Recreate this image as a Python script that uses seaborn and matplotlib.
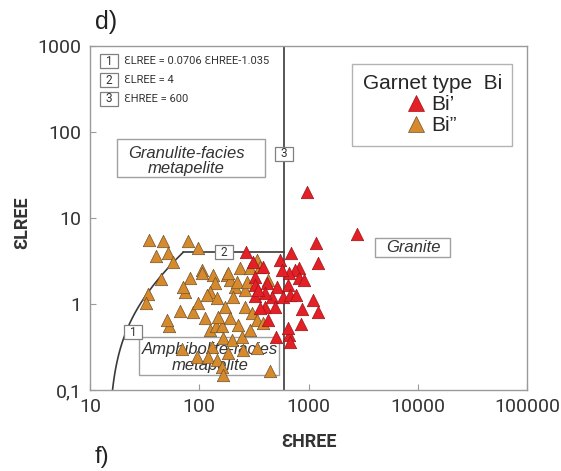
import numpy as np
import pandas as pd
import matplotlib
matplotlib.use("Agg")
import matplotlib.pyplot as plt
from matplotlib.patches import Rectangle
from matplotlib.lines import Line2D
from matplotlib import font_manager
import seaborn as sns

# Garnet Bi' (red) : sum of HREE and LREE
bi1_hree = [959, 2754, 1159, 1211, 698, 553, 386, 313, 270, 826, 760, 670, 826,
            326, 326, 421, 520, 656, 468, 590, 684, 776, 326, 403, 1089, 881,
            1211, 862, 508, 670, 684, 430, 363, 498, 656, 403, 348, 900, 577]
bi1_lree = [20.1, 6.51, 5.12, 3.00, 3.92, 3.25, 2.69, 3.08, 4.03, 2.62, 2.49, 2.29, 2.01,
            2.06, 1.66, 1.75, 1.58, 1.66, 1.21, 1.21, 1.27, 1.27, 1.24, 0.92, 1.11, 0.88,
            0.81, 0.59, 0.41, 0.44, 0.36, 0.65, 0.90, 0.92, 0.53, 1.34, 1.46, 1.90, 2.49]

# Garnet Bi'' (orange)
bi2_hree = [34.8, 46.8, 40.4, 52, 79.3, 97.9, 57.7, 44.8, 34, 32.7, 53, 50.8, 70,
            95, 448, 66, 88, 106.6, 82.6, 134.4, 140.2, 180.6, 192.4, 237.8, 293.6,
            340.6, 363, 430, 213.8, 264, 126, 74.5, 97.9, 118.4, 146.2, 173.2, 184.5,
            223.2, 205, 275.6, 264, 306.4, 340.6, 386.5, 126, 143.2, 162.5, 166, 131.6,
            200.8, 248, 253.3, 184.5, 121, 146.2, 162.5, 166, 340.6, 113.6, 149.3,
            192.4, 228, 293.6, 107, 71.3]
bi2_lree = [5.55, 5.40, 3.61, 3.92, 5.40, 4.48, 3.08, 1.95, 1.31, 1.03, 0.555, 0.652, 0.30,
            0.24, 0.166, 0.84, 0.80, 2.49, 2.01, 2.17, 1.75, 2.17, 1.90, 2.62, 2.62,
            3.25, 2.69, 1.90, 1.58, 1.46, 1.38, 1.38, 1.03, 1.27, 1.17, 0.923, 2.29,
            1.80, 1.21, 1.80, 0.923, 0.786, 0.652, 0.601, 0.499, 0.555, 0.555, 0.403, 0.316,
            0.381, 0.413, 0.292, 0.269, 0.242, 0.223, 0.185, 0.149, 0.308, 0.688, 0.706,
            0.688, 0.570, 0.499, 2.29, 1.58]

type_labels = ["Bi\u2019", "Bi\u201d"]
type_colors = ["#e41f26", "#d68a2b"]
type_edges = ["#9c1418", "#6e5330"]

x_ticks = [10, 100, 1000, 10000, 100000]
x_ticklabels = ["10", "100", "1000", "10000", "100000"]
y_ticks = [0.1, 1, 10, 100, 1000]
y_ticklabels = ["0,1", "1", "10", "100", "1000"]

# discrimination boundaries
line1_slope, line1_intercept = 0.0706, -1.035   # LREE = 0.0706 HREE - 1.035
lree_limit = 4                                  # LREE = 4
hree_limit = 600                                # HREE = 600

key_lines = ["\u0190LREE = 0.0706 \u0190HREE-1.035",
             "\u0190LREE = 4",
             "\u0190HREE = 600"]

df = pd.concat([
    pd.DataFrame({"HREE": bi2_hree, "LREE": bi2_lree, "type": type_labels[1]}),
    pd.DataFrame({"HREE": bi1_hree, "LREE": bi1_lree, "type": type_labels[0]}),
], ignore_index=True)

# fonts
sns.set_style("ticks")
available = {f.name for f in font_manager.fontManager.ttflist}


def pick(*names):
    for n in names:
        if n in available:
            return n
    return "DejaVu Sans"


narrow = pick("Liberation Sans Narrow", "DejaVu Sans Condensed", "Roboto")
sans = pick("Liberation Sans", "Arial", "DejaVu Sans")
plt.rcParams["font.family"] = [narrow, "DejaVu Sans"]

W, H = 561, 471
fig = plt.figure(figsize=(W / 100, H / 100), dpi=100)
ax = fig.add_axes([90 / W, 1 - 390 / H, 437 / W, 344 / H])
ax.set_xscale("log")
ax.set_yscale("log")
ax.set_xlim(10, 100000)
ax.set_ylim(0.1, 1000)

line_kw = dict(color="#3a3a3a", lw=1.2, zorder=2)
# boundary 1: curve from LREE = 0.1 up to LREE = 4
lree_curve = np.logspace(np.log10(0.1), np.log10(lree_limit), 100)
hree_curve = (lree_curve - line1_intercept) / line1_slope
ax.plot(hree_curve, lree_curve, **line_kw)
# boundary 2: horizontal LREE = 4 up to HREE = 600
ax.plot([hree_curve[-1], hree_limit], [lree_limit, lree_limit], **line_kw)
# boundary 3: vertical HREE = 600
ax.plot([hree_limit, hree_limit], [0.1, 1000], **line_kw)

# field labels (boxes in axes fraction)
box_kw = dict(transform=ax.transAxes, fill=True, facecolor="white",
              edgecolor="#a0a0a0", lw=1.0)
fields = [
    ((0.0618, 0.619), 0.3387, 0.1107, (0.220, 0.666), "Granulite-facies\nmetapelite", 2),
    ((0.112, 0.0436), 0.3205, 0.1104, (0.2746, 0.094), "Amphibolite-facies\nmetapelite", 1),
    ((0.652, 0.387), 0.172, 0.055, (0.739, 0.413), "Granite", 2),
]
for (x0, y0), w, h, (tx, ty), label, z in fields:
    ax.add_patch(Rectangle((x0, y0), w, h, zorder=z, **box_kw))
    ax.text(tx, ty, label, transform=ax.transAxes, ha="center", va="center",
            fontsize=12, style="italic", family=sans, color="#333333",
            linespacing=1.05, zorder=z + 0.1)

# scatter points
for lab, col, edge in zip(type_labels[::-1], type_colors[::-1], type_edges[::-1]):
    sub = df[df["type"] == lab]
    sns.scatterplot(data=sub, x="HREE", y="LREE", marker="^", s=80, color=col,
                    edgecolor=edge, linewidth=0.5, ax=ax, zorder=5, legend=False)

# numbered boxes
bw_px, bh_px = 18, 14
ax_w_px, ax_h_px = 437, 344


def num_box_data(cx, cy, label):
    fx = 10 ** (bw_px / 2 / 109)
    fy = 10 ** (bh_px / 2 / 86)
    ax.add_patch(Rectangle((cx / fx, cy / fy), cx * fx - cx / fx, cy * fy - cy / fy,
                           facecolor="white", edgecolor="#808080", lw=0.9, zorder=6))
    ax.text(cx, cy, label, ha="center", va="center", fontsize=8.5,
            color="#333333", zorder=7)


def num_box_axes(cx, cy, label):
    w = bw_px / ax_w_px
    h = bh_px / ax_h_px
    ax.add_patch(Rectangle((cx - w / 2, cy - h / 2), w, h, transform=ax.transAxes,
                           facecolor="white", edgecolor="#808080", lw=0.9, zorder=6))
    ax.text(cx, cy, label, transform=ax.transAxes, ha="center", va="center",
            fontsize=8.5, color="#333333", zorder=7)


num_box_data(25, 0.47, "1")
num_box_data(169, lree_limit, "2")
num_box_data(hree_limit, 55.5, "3")

key_y = [0.956, 0.901, 0.846]
for i, (ky, txt) in enumerate(zip(key_y, key_lines)):
    num_box_axes(0.0435, ky, str(i + 1))
    ax.text(0.0778, ky, txt, transform=ax.transAxes, ha="left", va="center",
            fontsize=8, color="#333333", zorder=7)

# legend
handles = [Line2D([], [], marker="^", ls="", ms=12, mfc=c, mec=e, mew=0.5, label=l)
           for l, c, e in zip(type_labels, type_colors, type_edges)]
leg = ax.legend(handles=handles, title="Garnet type  Bi", loc="upper left",
                bbox_to_anchor=(0.600, 0.948), borderaxespad=0, frameon=True,
                fancybox=False, edgecolor="#a0a0a0", handlelength=0.8,
                handletextpad=0.3, labelspacing=0.1, borderpad=0.5,
                prop={"family": sans, "size": 15})
leg.get_title().set_fontfamily(sans)
leg.get_title().set_fontsize(15)
leg.get_frame().set_linewidth(1.0)
leg.set_zorder(10)

# axes styling
for sp in ax.spines.values():
    sp.set_color("#9a9a9a")
    sp.set_linewidth(1.0)
ax.set_xticks(x_ticks)
ax.set_xticklabels(x_ticklabels)
ax.set_yticks(y_ticks)
ax.set_yticklabels(y_ticklabels)
ax.minorticks_off()
ax.tick_params(direction="in", length=4, width=0.8, color="#9a9a9a",
               labelsize=14, labelcolor="#333333")
ax.tick_params(axis="x", pad=6)
ax.tick_params(axis="y", pad=6)

ax.set_xlabel("\u0190HREE", fontsize=13, fontweight="bold", color="#333333")
ax.set_ylabel("\u0190LREE", fontsize=13, fontweight="bold", color="#333333")
ax.xaxis.set_label_coords(0.5, -0.125)
ax.yaxis.set_label_coords(-0.135, 0.485)

fig.text(95 / W, 1 - 22 / H, "d)", fontsize=18, family=sans, color="#222222",
         va="center", ha="left")
fig.text(95 / W, 1 - 446 / H, "f)", fontsize=17, family=sans, color="#222222",
         va="top", ha="left")

fig.savefig("out.png", dpi=100, facecolor="white")
